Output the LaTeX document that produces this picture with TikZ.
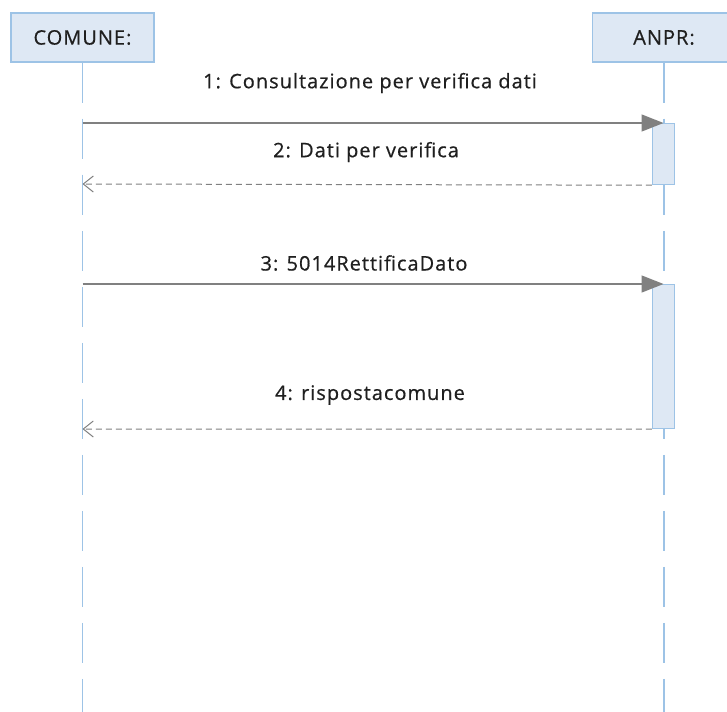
\documentclass[tikz,border=0pt]{standalone}
\usepackage{fontspec}
\setmainfont{Open Sans}[LetterSpace=5,FakeBold=0.6]
\usetikzlibrary{arrows.meta}
\definecolor{lifeblue}{HTML}{9DC3E6}
\definecolor{boxfill}{HTML}{DEE8F4}
\definecolor{msggray}{HTML}{808080}
\definecolor{txt}{HTML}{1F1F1F}
\tikzset{
  actor/.style={draw=lifeblue, fill=boxfill, line width=1.5pt, minimum width=143pt, minimum height=49pt, inner sep=0pt, font=\fontsize{20}{22}\selectfont, text=txt},
  lifeline/.style={draw=lifeblue, line width=1.6pt, dash pattern=on 40pt off 16pt},
  activation/.style={draw=lifeblue, fill=boxfill, line width=1.2pt, minimum width=22pt, inner sep=0pt},
  callmsg/.style={draw=msggray, line width=1.4pt, -{Triangle[length=22pt,width=17pt]}},
  retmsg/.style={draw=msggray, line width=1pt, dash pattern=on 6pt off 4pt, -{Straight Barb[length=10pt,width=16pt,line width=1pt]}},
  msglabel/.style={font=\fontsize{20}{22}\selectfont, text=txt, inner sep=0pt}
}
\begin{document}
\begin{tikzpicture}[x=1pt,y=-1pt]
\useasboundingbox (0,0) rectangle (727,711);
\path[fill=white] (0,0) rectangle (727,711);
\node[actor] (comune) at (82.5,37.5) {COMUNE:};
\node[actor] (anpr) at (664,37.5) {ANPR:};
\coordinate (cbot) at (82.5,715);
\coordinate (abot) at (664,715);
\draw[lifeline] (comune.south) -- (cbot);
\draw[lifeline] (anpr.south) -- (abot);
\node[activation, minimum height=61pt, anchor=north] (act1) at (663.5,123) {};
\node[activation, minimum height=144pt, anchor=north] (act2) at (663.5,284) {};
\coordinate (c1) at (82.5,123);
\coordinate (c2) at (82.5,184);
\coordinate (c3) at (82.5,284);
\coordinate (c4) at (82.5,429);
\draw[callmsg] (c1) -- (act1.north);
\draw[retmsg] (act1.south west) -- (c2);
\draw[callmsg] (c3) -- (act2.north);
\draw[retmsg] (act2.south west) -- (c4);
\node[msglabel] (l1) at (370,83) {1: Consultazione per verifica dati};
\node[msglabel] (l2) at (366,152) {2: Dati per verifica};
\node[msglabel] (l3) at (364,263) {3: 5014RettificaDato};
\node[msglabel] (l4) at (370,395) {4: rispostacomune};
\end{tikzpicture}
\end{document}
